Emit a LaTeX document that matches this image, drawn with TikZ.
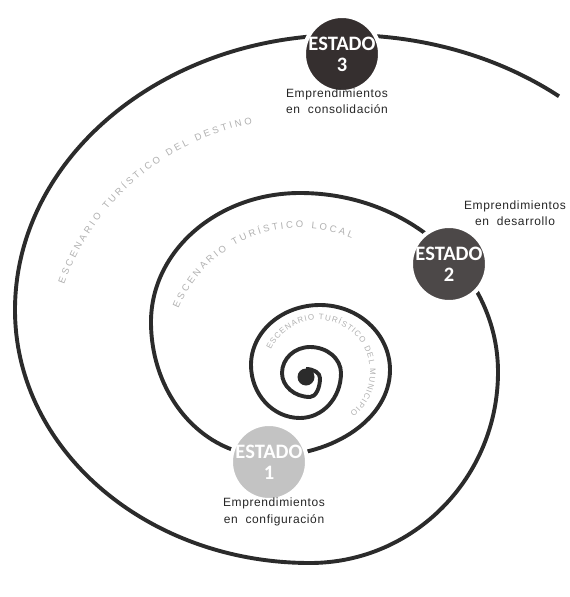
\documentclass[tikz,border=0pt]{standalone}
\usepackage{fontspec}
\setmainfont{Liberation Sans}
\newfontfamily\statefont{Carlito}
\newfontfamily\labelfont[LetterSpace=5]{Liberation Sans}
\newfontfamily\bandfont{Liberation Sans}
\usetikzlibrary{calc,decorations.text}

\definecolor{spiralcol}{HTML}{2B2B2B}
\definecolor{estthree}{HTML}{352F2F}
\definecolor{esttwo}{HTML}{4C4848}
\definecolor{estone}{HTML}{C3C3C3}
\definecolor{bandcol}{HTML}{B0B0B0}
\definecolor{labelcol}{HTML}{262626}

\begin{document}
\begin{tikzpicture}[x=1pt,y=-1pt,
  spiral/.style={draw=spiralcol, line width=3.9pt},
  estado/.style={circle, minimum size=76pt, inner sep=0pt, draw=white,
    line width=4pt, text=white, align=center,
    font=\statefont\bfseries\fontsize{20.5}{21}\selectfont},
  lbl/.style={font=\labelfont\fontsize{12}{16.5}\selectfont, text=labelcol,
    align=center, inner sep=0pt},
  band/.style 2 args={decorate, decoration={text along path,
    text align=fit to path,
    text={|\bandfont\fontsize{#1}{#1}\selectfont\color{bandcol}|#2}}}
]
\useasboundingbox (0,0) rectangle (570,597);

% centres of the lettering arcs
\coordinate (cdest) at (300,370);
\coordinate (cloc)  at (300,360);
\coordinate (cmun)  at (318,372);

% the spiral, built from quarter ellipses between its tangent points
\draw[spiral] (306,369)
  arc[start angle=-90, end angle=0,   x radius=14,  y radius=9]
  arc[start angle=0,   end angle=90,  x radius=10,  y radius=19]
  arc[start angle=90,  end angle=180, x radius=28,  y radius=24]
  arc[start angle=180, end angle=270, x radius=28,  y radius=26]
  arc[start angle=270, end angle=360, x radius=31,  y radius=26]
  arc[start angle=0,   end angle=90,  x radius=41,  y radius=45]
  arc[start angle=90,  end angle=180, x radius=49,  y radius=53]
  arc[start angle=180, end angle=270, x radius=69,  y radius=60]
  arc[start angle=270, end angle=360, x radius=70,  y radius=65]
  arc[start angle=0,   end angle=90,  x radius=122, y radius=86]
  arc[start angle=90,  end angle=180, x radius=117, y radius=134]
  arc[start angle=180, end angle=270, x radius=149, y radius=129]
  arc[start angle=270, end angle=360, x radius=198, y radius=179]
  arc[start angle=0,   end angle=90,  x radius=188, y radius=191]
  arc[start angle=90,  end angle=180, x radius=295, y radius=253]
  arc[start angle=180, end angle=270, x radius=330, y radius=275]
  arc[start angle=270, end angle=309, x radius=340, y radius=275];

\node[circle, fill=spiralcol, minimum size=17pt, inner sep=0pt] (core) at (306,377) {};

% curved scenario names
\path[band={9.5}{ESCENARIO TURÍSTICO DEL DESTINO}]
  ($(cdest)+(200:251)$) arc[start angle=200, end angle=259, radius=251];
\path[band={9.5}{ESCENARIO TURÍSTICO LOCAL}]
  ($(cloc)+(203:132)$) arc[start angle=203, end angle=293, radius=132];
\path[band={8}{ESCENARIO TURÍSTICO DEL MUNICIPIO}]
  ($(cmun)+(205:52)$) arc[start angle=205, end angle=412, radius=52];

% stages
\node[estado, fill=estthree] (e3) at (342,54)  {ESTADO\\3};
\node[estado, fill=esttwo]   (e2) at (449,264) {ESTADO\\2};
\node[estado, fill=estone]   (e1) at (269,462) {ESTADO\\1};

\node[lbl] (l3) at (337,101) {Emprendimientos\\en\ \ consolidación};
\node[lbl] (l2) at (515,213) {Emprendimientos\\en\ \ desarrollo};
\node[lbl] (l1) at (274,512) {Emprendimientos\\en\ \ configuración};
\end{tikzpicture}
\end{document}
